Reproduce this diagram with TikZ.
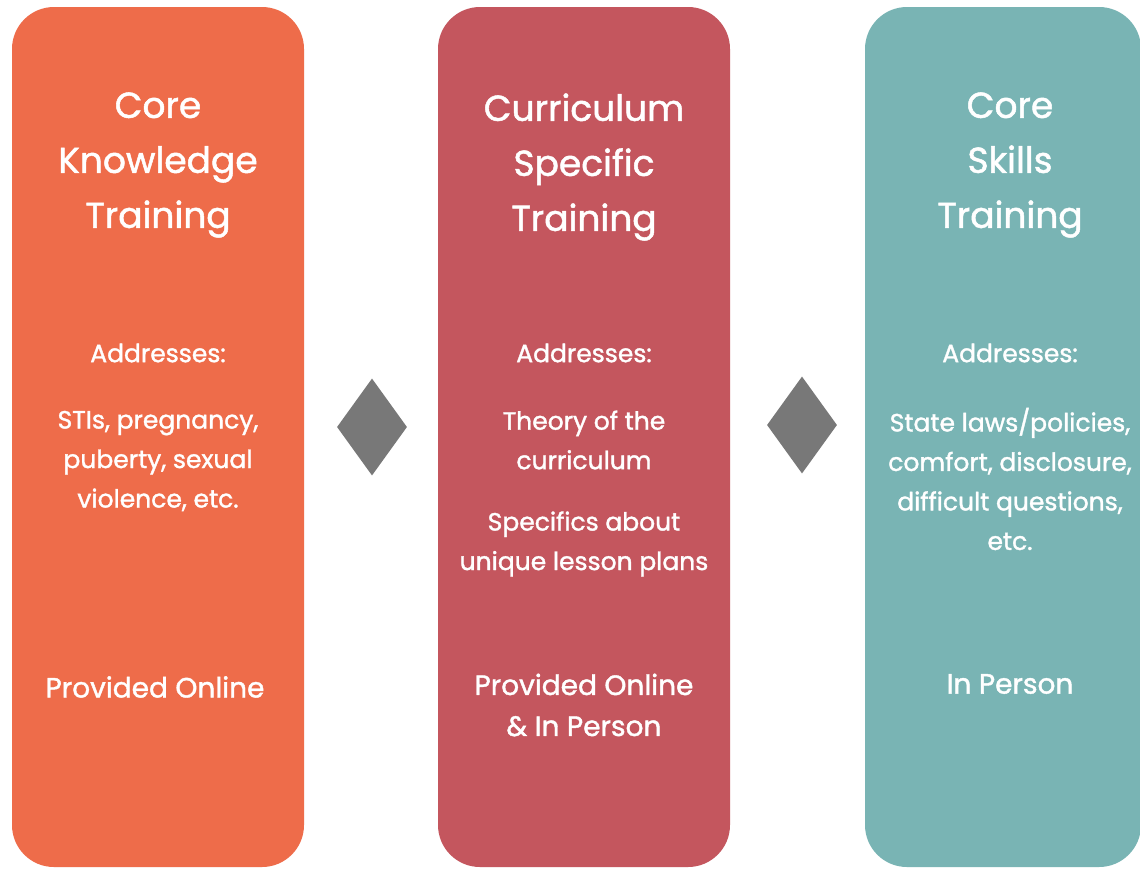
\documentclass[tikz,border=0pt]{standalone}
\usepackage{fontspec}
\setmainfont{Poppins}[FakeBold=1.4]
\usetikzlibrary{shapes.geometric}
\definecolor{corange}{HTML}{EE6C4A}
\definecolor{cred}{HTML}{C4565E}
\definecolor{cteal}{HTML}{79B4B4}
\definecolor{cgray}{HTML}{787878}
\tikzset{
  column/.style={rounded corners=42pt},
  title/.style={text=white, align=center, inner sep=0pt, font=\fontsize{36}{55}\selectfont},
  body/.style={text=white, align=center, inner sep=0pt, font=\fontsize{25}{39.5}\selectfont},
  mode/.style={text=white, align=center, inner sep=0pt, font=\fontsize{28}{41}\selectfont},
  sep/.style={diamond, fill=cgray, draw=none, inner sep=0pt, minimum width=70pt, minimum height=97pt}
}
\begin{document}
\begin{tikzpicture}[x=1pt,y=-1pt]
\useasboundingbox (0,0) rectangle (1140,868);
\fill[white] (0,0) rectangle (1140,868);
% columns
\fill[corange, column] (12,7) rectangle (304,867);
\fill[cred, column] (438,7) rectangle (730,867);
\fill[cteal, column] (865,7) rectangle (1141,867);
% separators
\node[sep] (d1) at (372,427) {};
\node[sep] (d2) at (802,425) {};
% left column
\node[title] (t1) at (158,165) {Core\\Knowledge\\Training};
\node[body] (a1) at (158,353) {Addresses:};
\node[body] (b1) at (158,461) {STIs, pregnancy,\\puberty, sexual\\violence, etc.};
\node[mode] (p1) at (155,687) {Provided Online};
% middle column
\node[title] (t2) at (584,167) {Curriculum\\Specific\\Training};
\node[body] (a2) at (584,353) {Addresses:};
\node[body] (b2) at (584,440) {Theory of the\\curriculum};
\node[body] (c2) at (584,544) {Specifics about\\unique lesson plans};
\node[mode] (p2) at (584,705) {Provided Online\\\& In Person};
% right column
\node[title] (t3) at (1010,165) {Core\\Skills\\Training};
\node[body] (a3) at (1010,353) {Addresses:};
\node[body] (b3) at (1010,479) {State laws/policies,\\comfort, disclosure,\\difficult questions,\\etc.};
\node[mode] (p3) at (1010,684) {In Person};
\end{tikzpicture}
\end{document}
